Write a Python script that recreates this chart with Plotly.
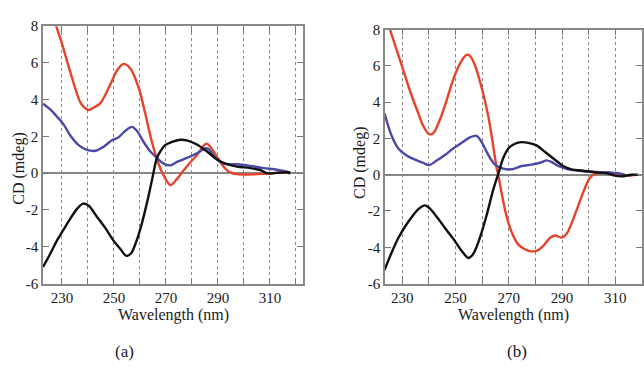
import plotly.graph_objects as go

# ---------------- Panel (a) data ----------------
a_red_x = [222.7, 225, 227.8, 230, 233, 237, 238.5, 240.3, 242.5, 244.7, 248.6, 251.2, 253.7, 256.3,
           259.5, 262, 264.6, 267.2, 269.1, 271.7, 274, 276.2, 279.4, 282, 284.5, 285.8, 287, 288.3,
           290, 291.5, 293, 294.7, 297, 299.9, 303.5, 307.6, 311, 314, 317.8]
a_red_y = [10.6, 9.3, 8.0, 7.05, 5.6, 3.87, 3.6, 3.44, 3.6, 3.8, 4.83, 5.6, 5.95, 5.7,
           4.65, 3.26, 1.7, 0.49, -0.12, -0.64, -0.35, 0.05, 0.6, 1.0, 1.5, 1.61, 1.45, 1.18,
           0.8, 0.49, 0.22, 0.05, -0.05, -0.07, -0.06, -0.03, 0.0, 0.05, 0.0]

a_blue_x = [222.7, 225.5, 228, 230.6, 233.2, 236.4, 239.6, 242.8, 246, 249.2, 251.8, 254.4, 256.9,
            258.8, 261.4, 264, 266.5, 269.1, 271.7, 274.2, 278.1, 281.9, 285.1, 286.4, 289, 292.2,
            297.3, 302.4, 307.6, 312.7, 317.8]
a_blue_y = [3.78, 3.47, 3.09, 2.66, 2.05, 1.53, 1.27, 1.22, 1.44, 1.79, 1.96, 2.31, 2.52,
            2.31, 1.7, 1.18, 0.83, 0.52, 0.43, 0.62, 0.83, 1.09, 1.35, 1.32, 0.83, 0.52,
            0.49, 0.4, 0.28, 0.19, 0.05]

a_black_x = [222.7, 225.5, 228, 230.6, 233.2, 235.8, 238.1, 240.3, 243.5, 246.7, 249.9, 252.4, 254.8,
             256.6, 258.5, 260.5, 262.7, 264.6, 266.5, 267.8, 269.7, 272.3, 275.5, 278, 281.9, 285.8,
             289.6, 293.5, 297.3, 302.4, 306.3, 308.8, 312.7, 316.5, 317.8]
a_black_y = [-5.1, -4.38, -3.68, -3.07, -2.47, -1.94, -1.65, -1.77, -2.38, -2.99, -3.68, -4.11, -4.5,
             -4.35, -3.75, -2.85, -1.6, -0.38, 0.83, 1.18, 1.53, 1.7, 1.82, 1.79, 1.56, 1.18,
             0.75, 0.49, 0.36, 0.28, 0.17, 0.0, 0.02, 0.05, 0.0]

# ---------------- Panel (b) data ----------------
b_red_x = [223.5, 225.4, 230, 232.9, 236, 237.9, 240, 241.6, 244.1, 246.6, 249.1, 251.6, 254.1, 255.4,
           257.3, 259.8, 262.3, 264.1, 265.4, 266, 267.3, 269.1, 271, 273.5, 276, 278.5, 281, 282.9,
           285.4, 287.3, 289.8, 291.6, 293.5, 296, 298.5, 300.4, 302.3, 304.8, 307.3, 309.8, 312.3,
           314.8, 317.3]
b_red_y = [8.85, 8.0, 5.94, 4.62, 3.39, 2.68, 2.24, 2.29, 3.03, 4.09, 5.24, 6.12, 6.61, 6.56,
           6.03, 4.8, 3.21, 1.62, 0.39, 0.0, -1.02, -2.26, -3.14, -3.84, -4.11, -4.23, -4.16, -3.93,
           -3.49, -3.35, -3.46, -3.28, -2.7, -1.73, -0.76, -0.18, 0.04, 0.12, 0.12, 0.04, -0.02,
           -0.05, 0.0]

b_blue_x = [223.3, 226, 228.5, 231.6, 234.8, 237.9, 240, 242.9, 246, 249.1, 252.3, 255.4, 257.9,
            259.8, 262.3, 264.8, 267.9, 271, 274.8, 278.5, 282.3, 284.1, 286, 288.5, 292.3, 297.3,
            302.3, 307.3, 311, 313.5]
b_blue_y = [3.39, 2.15, 1.45, 1.06, 0.83, 0.65, 0.53, 0.78, 1.09, 1.45, 1.76, 2.06, 2.15,
            1.8, 1.09, 0.56, 0.34, 0.3, 0.48, 0.56, 0.69, 0.79, 0.71, 0.48, 0.3, 0.21,
            0.16, 0.12, 0.09, 0.0]

b_black_x = [223.3, 226, 228.5, 231, 233.5, 236, 238.5, 240.4, 243.5, 246.6, 249.8, 252.3, 254.8,
             256.6, 259.1, 261.6, 264.1, 266, 267.9, 269.8, 272.3, 274.8, 277.3, 280.4, 283.5, 287.3,
             290.4, 293.5, 298.5, 303.5, 307.3, 309.8, 312.3, 316, 318.5]
b_black_y = [-5.26, -4.29, -3.49, -2.87, -2.35, -1.9, -1.69, -1.87, -2.43, -3.05, -3.67, -4.2, -4.59,
             -4.37, -3.49, -2.26, -0.85, 0.04, 0.92, 1.45, 1.71, 1.8, 1.76, 1.62, 1.27, 0.83,
             0.48, 0.3, 0.21, 0.12, 0.07, -0.05, -0.09, 0.0, 0.0]

x_tick_vals = [230, 240, 250, 260, 270, 280, 290, 300, 310, 320]
x_tick_text = ["230", "", "250", "", "270", "", "290", "", "310", ""]
y_tick_vals = [-6, -4, -2, 0, 2, 4, 6, 8]
y_tick_text = ["-6", "-4", "-2", "0", "2", "4", "6", "8"]

RED = "#e5432c"
BLUE = "#4a4aa6"
BLACK = "#111111"

W, H = 644, 369

fig = go.Figure()

def add_panel(xs, ys, xa, ya):
    for x, y, c in zip(xs, ys, [RED, BLUE, BLACK]):
        fig.add_trace(go.Scatter(x=x, y=y, mode="lines", xaxis=xa, yaxis=ya,
                                 line=dict(color=c, width=2.4, shape="spline", smoothing=0.9),
                                 showlegend=False, hoverinfo="skip"))

add_panel([a_red_x, a_blue_x, a_black_x], [a_red_y, a_blue_y, a_black_y], "x", "y")
add_panel([b_red_x, b_blue_x, b_black_x], [b_red_y, b_blue_y, b_black_y], "x2", "y2")

font_serif = "Liberation Serif"
TXT = "#1a1a1a"

def xaxis_cfg(rng, dom):
    return dict(range=rng, domain=dom, tickvals=x_tick_vals, ticktext=x_tick_text,
                ticks="inside", ticklen=6, tickcolor="#777", tickwidth=1.2,
                showline=True, mirror="ticks", linecolor="#888", linewidth=1.5,
                showgrid=True, gridcolor="#888", griddash="dot", gridwidth=1,
                zeroline=False, tickfont=dict(family=font_serif, size=15, color=TXT),
                fixedrange=True)

def yaxis_cfg(dom, anchor):
    return dict(range=[-6, 8], domain=dom, tickvals=y_tick_vals, ticktext=y_tick_text,
                ticks="inside", ticklen=6, tickcolor="#777", tickwidth=1.2,
                showline=True, mirror="ticks", linecolor="#888", linewidth=1.5,
                showgrid=False, zeroline=True, zerolinecolor="#888", zerolinewidth=1.5,
                tickfont=dict(family=font_serif, size=15, color=TXT),
                anchor=anchor, fixedrange=True)

fig.update_layout(
    width=W, height=H, margin=dict(l=0, r=0, t=0, b=0),
    paper_bgcolor="white", plot_bgcolor="white",
    font=dict(family=font_serif),
    xaxis=dict(**xaxis_cfg([222.7, 322.7], [43 / W, 303 / W]), anchor="y"),
    yaxis=yaxis_cfg([1 - 288 / H, 1 - 19 / H], "x"),
    xaxis2=dict(**xaxis_cfg([223.5, 320], [385 / W, 642 / W]), anchor="y2"),
    yaxis2=yaxis_cfg([1 - 288 / H, 1 - 22.7 / H], "x2"),
)

def ann(text, px, py, size, angle=0):
    fig.add_annotation(text=text, x=px / W, y=1 - py / H, xref="paper", yref="paper",
                       showarrow=False, textangle=angle,
                       font=dict(family=font_serif, size=size, color=TXT),
                       xanchor="center", yanchor="middle")

ann("Wavelength (nm)", 173, 321, 16)
ann("Wavelength (nm)", 513, 321, 16)
ann("CD (mdeg)", 19, 168, 16, -90)
ann("CD (mdeg)", 360, 162, 16, -90)
ann("(a)", 124, 359, 17)
ann("(b)", 517, 359, 17)

fig.write_html("out.html")
